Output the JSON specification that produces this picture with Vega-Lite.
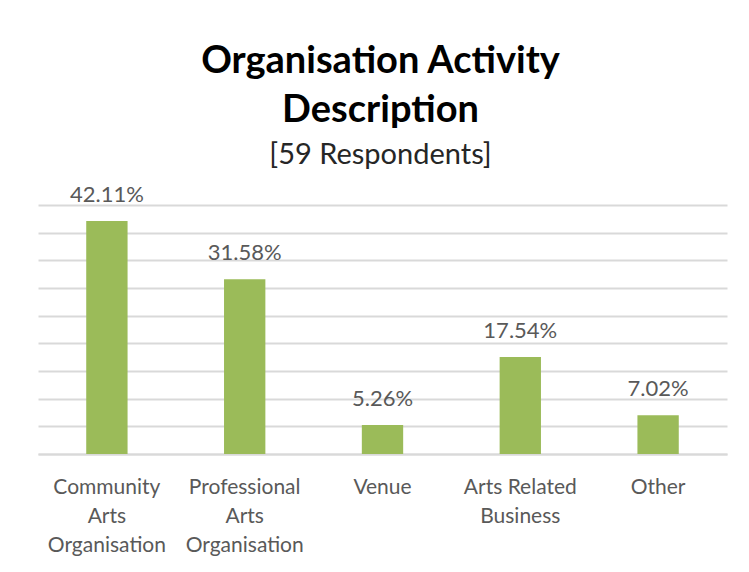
{
  "$schema": "https://vega.github.io/schema/vega-lite/v6.json",
  "width": 689,
  "height": 249,
  "autosize": {"type": "none"},
  "padding": {"left": 38, "top": 205, "right": 22, "bottom": 118},
  "background": "white",
  "title": {
    "text": ["Organisation Activity", "Description"],
    "subtitle": "[59 Respondents]",
    "font": "Lato",
    "fontSize": 38,
    "fontWeight": "bold",
    "color": "#000000",
    "lineHeight": 49,
    "subtitleFont": "Lato",
    "subtitleFontSize": 29,
    "subtitleColor": "#262626",
    "subtitlePadding": 11,
    "anchor": "middle",
    "offset": 14,
    "dx": -2
  },
  "data": {
    "values": [
      {"cat": "Community|Arts|Organisation", "share": 0.4211},
      {"cat": "Professional|Arts|Organisation", "share": 0.3158},
      {"cat": "Venue", "share": 0.0526},
      {"cat": "Arts Related|Business", "share": 0.1754},
      {"cat": "Other", "share": 0.0702}
    ]
  },
  "encoding": {
    "x": {
      "field": "cat",
      "type": "nominal",
      "sort": null,
      "scale": {"paddingInner": 0.7, "paddingOuter": 0.35},
      "axis": {
        "title": null,
        "labelAngle": 0,
        "labelExpr": "split(datum.label, '|')",
        "labelFont": "Lato",
        "labelFontSize": 21,
        "labelColor": "#595959",
        "labelLineHeight": 29,
        "labelPadding": 22,
        "labelBaseline": "top",
        "ticks": false,
        "domain": true,
        "domainColor": "#D9D9D9",
        "domainWidth": 2
      }
    },
    "y": {
      "field": "share",
      "type": "quantitative",
      "scale": {"domain": [0, 0.45], "nice": false},
      "axis": {
        "title": null,
        "labels": false,
        "ticks": false,
        "domain": false,
        "values": [0, 0.05, 0.1, 0.15, 0.2, 0.25, 0.3, 0.35, 0.4, 0.45],
        "gridColor": "#D9D9D9",
        "gridWidth": 2
      }
    }
  },
  "layer": [
    {"mark": {"type": "bar", "color": "#9BBB59"}},
    {
      "mark": {"type": "text", "font": "Lato", "fontSize": 22, "color": "#595959", "baseline": "alphabetic", "dy": -19},
      "encoding": {"text": {"field": "share", "type": "quantitative", "format": ".2%"}}
    }
  ],
  "config": {"view": {"stroke": null}}
}
